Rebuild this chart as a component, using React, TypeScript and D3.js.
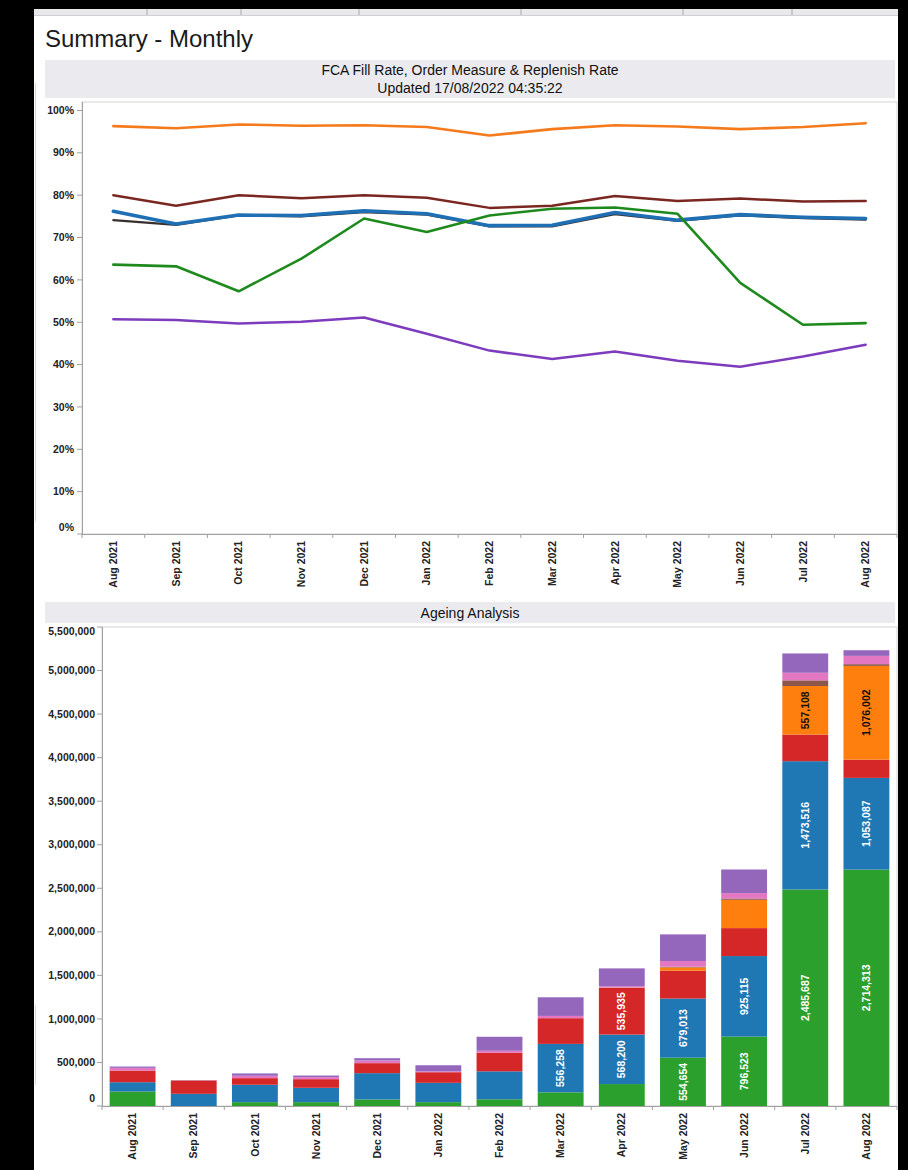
import React from 'react';
import * as d3 from 'd3';

const months = ['Aug 2021','Sep 2021','Oct 2021','Nov 2021','Dec 2021','Jan 2022','Feb 2022','Mar 2022','Apr 2022','May 2022','Jun 2022','Jul 2022','Aug 2022'];

// Line chart series (percent)
const rateOrange = [96.3, 95.8, 96.7, 96.4, 96.5, 96.1, 94.1, 95.6, 96.5, 96.2, 95.6, 96.1, 97.0];
const rateMaroon = [80.0, 77.5, 80.0, 79.3, 80.0, 79.4, 77.0, 77.5, 79.8, 78.6, 79.2, 78.5, 78.6];
const rateDark = [74.1, 73.0, 75.2, 75.0, 76.0, 75.4, 72.6, 72.6, 75.5, 73.9, 75.2, 74.6, 74.2];
const rateBlue = [76.2, 73.2, 75.3, 75.2, 76.3, 75.6, 72.8, 72.9, 75.9, 74.1, 75.4, 74.8, 74.5];
const rateGreen = [63.6, 63.2, 57.3, 65.0, 74.5, 71.3, 75.2, 76.8, 77.1, 75.6, 59.3, 49.4, 49.8];
const ratePurple = [50.7, 50.5, 49.7, 50.1, 51.1, 47.3, 43.3, 41.3, 43.1, 40.9, 39.5, 41.9, 44.7];
const pctTicks = [0, 10, 20, 30, 40, 50, 60, 70, 80, 90, 100];

// Ageing analysis stacked values
const ageGreen = [166000, 0, 44000, 44000, 75000, 44000, 77000, 157000, 252000, 554654, 796523, 2485687, 2714313];
const ageBlue = [107000, 140000, 200000, 165000, 302000, 222000, 321000, 556258, 568200, 679013, 925115, 1473516, 1053087];
const ageRed = [134000, 153000, 76000, 99000, 115000, 122000, 213000, 295000, 535935, 320000, 321000, 306000, 210000];
const ageOrange = [0, 0, 0, 0, 0, 0, 0, 0, 3000, 38000, 325000, 557108, 1076002];
const ageBrown = [0, 0, 0, 0, 0, 0, 0, 0, 0, 8000, 15000, 65000, 20000];
const agePink = [31000, 0, 27000, 23000, 31000, 10000, 23000, 26000, 15000, 65000, 62000, 87000, 95000];
const agePurple = [15000, 3000, 27000, 19000, 26000, 70000, 161000, 214000, 206000, 306000, 271000, 222000, 65000];
const ageTicks = [0, 500000, 1000000, 1500000, 2000000, 2500000, 3000000, 3500000, 4000000, 4500000, 5000000, 5500000];

const tabSeparators = [147, 241, 359, 521, 683, 792];

const FONT = 'Liberation Sans, Arial, Helvetica, sans-serif';

export default function App() {
  // ---------- line chart ----------
  const lx = d3.scaleBand<string>().domain(months).range([82, 897]);
  const ly = d3.scaleLinear().domain([0, 102]).range([534, 102]);
  const lc = (m: string) => (lx(m) as number) + lx.bandwidth() / 2;

  const lineSeries = [
    { key: 'purple', values: ratePurple, color: '#7d3cbd', width: 2.5 },
    { key: 'dark', values: rateDark, color: '#3a3030', width: 2.2 },
    { key: 'blue', values: rateBlue, color: '#1f6fb4', width: 3.6 },
    { key: 'maroon', values: rateMaroon, color: '#7a2722', width: 2.5 },
    { key: 'green', values: rateGreen, color: '#1e8a1e', width: 2.6 },
    { key: 'orange', values: rateOrange, color: '#f57a1c', width: 2.6 },
  ];
  const lineGen = d3.line<number>()
    .x((_, i) => lc(months[i]))
    .y((d) => ly(d));

  // ---------- bar chart ----------
  const bx = d3.scaleBand<string>().domain(months).range([102, 897]).paddingInner(0.25).paddingOuter(0.125);
  const by = d3.scaleLinear().domain([0, 5500000]).range([1106, 627]);
  const keys = ['green', 'blue', 'red', 'orange', 'brown', 'pink', 'purple'];
  const colors: Record<string, string> = {
    green: '#2ca02c', blue: '#1f77b4', red: '#d62728', orange: '#ff7f0e',
    brown: '#8c564b', pink: '#e377c2', purple: '#9467bd',
  };
  const labelColor: Record<string, string> = {
    green: '#ffffff', blue: '#ffffff', red: '#ffffff', orange: '#111111',
    brown: '#ffffff', pink: '#111111', purple: '#ffffff',
  };
  const table = months.map((m, i) => ({
    month: m,
    green: ageGreen[i], blue: ageBlue[i], red: ageRed[i], orange: ageOrange[i],
    brown: ageBrown[i], pink: agePink[i], purple: agePurple[i],
  }));
  const stacked = d3.stack<any>().keys(keys)(table);
  const fmt = d3.format(',');
  const bStep = bx.step();
  const bStart = bx.range()[0];

  return (
    <svg width={908} height={1170} style={{ position: 'absolute', left: 0, top: 0, display: 'block' }} fontFamily={FONT}>
      <rect x={0} y={0} width={908} height={1170} fill="#000" />
      <rect x={34} y={9} width={864} height={1161} fill="#fff" />
      {/* tab strip */}
      <rect x={34} y={9} width={864} height={6} fill="#e9e9ec" />
      <line x1={34} x2={898} y1={15.5} y2={15.5} stroke="#d0d0d4" />
      {tabSeparators.map((s) => (
        <line key={s} x1={s} x2={s} y1={9} y2={15} stroke="#a8a8ae" />
      ))}
      <line x1={35.5} x2={35.5} y1={83} y2={522} stroke="#d8d8d8" />
      <line x1={35.5} x2={35.5} y1={1005} y2={1085} stroke="#d8d8d8" />

      {/* page title */}
      <text x={45} y={47} fontSize={24} fill="#1a1a1a">Summary - Monthly</text>

      {/* ---------- line chart header ---------- */}
      <rect x={45} y={60} width={850} height={38} fill="#ebebef" />
      <text x={470} y={75} textAnchor="middle" fontSize={14} fill="#111">FCA Fill Rate, Order Measure &amp; Replenish Rate</text>
      <text x={470} y={93} textAnchor="middle" fontSize={14} fill="#111">Updated 17/08/2022 04:35:22</text>

      {/* plot frame */}
      <rect x={82} y={102} width={815} height={432} fill="none" stroke="#d4d4d4" />
      <line x1={82.5} x2={82.5} y1={102} y2={534} stroke="#a0a0a0" />
      <line x1={82} x2={897} y1={534.5} y2={534.5} stroke="#a0a0a0" />
      {pctTicks.map((t) => (
        <g key={t}>
          <line x1={77} x2={82} y1={ly(t)} y2={ly(t)} stroke="#a0a0a0" />
          <text x={74} y={t === 0 ? ly(t) - 7 : ly(t)} dy="0.35em" textAnchor="end" fontSize={10.5} fontWeight={600} fill="#222">{t}%</text>
        </g>
      ))}
      {months.map((m, i) => (
        <line key={m} x1={(lx(m) as number)} x2={(lx(m) as number)} y1={534} y2={538} stroke="#a0a0a0" />
      ))}
      <line x1={897} x2={897} y1={534} y2={538} stroke="#a0a0a0" />
      {months.map((m) => (
        <text key={m} transform={`translate(${lc(m)},541) rotate(-90)`} textAnchor="end" dy="0.35em" fontSize={10.5} fontWeight={600} fill="#222">{m}</text>
      ))}
      {lineSeries.map((s) => (
        <path key={s.key} d={lineGen(s.values) as string} fill="none" stroke={s.color} strokeWidth={s.width} strokeLinejoin="round" strokeLinecap="round" />
      ))}

      {/* ---------- bar chart header ---------- */}
      <rect x={45} y={602} width={850} height={21} fill="#ebebef" />
      <text x={470} y={618} textAnchor="middle" fontSize={14} fill="#111">Ageing Analysis</text>

      <rect x={102} y={627} width={795} height={479} fill="none" stroke="#d4d4d4" />
      <line x1={102.5} x2={102.5} y1={627} y2={1106} stroke="#a0a0a0" />
      <line x1={102} x2={897} y1={1106.5} y2={1106.5} stroke="#a0a0a0" />
      {ageTicks.map((t) => (
        <g key={t}>
          <line x1={97} x2={102} y1={by(t)} y2={by(t)} stroke="#a0a0a0" />
          <text x={95} y={t === 0 ? by(t) - 8 : t === 5500000 ? by(t) + 4 : by(t)} dy="0.35em" textAnchor="end" fontSize={10.5} fontWeight={600} fill="#222">{fmt(t)}</text>
        </g>
      ))}
      {d3.range(months.length + 1).map((i) => (
        <line key={i} x1={bStart + i * bStep} x2={bStart + i * bStep} y1={1106} y2={1110} stroke="#a0a0a0" />
      ))}
      {months.map((m) => (
        <text key={m} transform={`translate(${(bx(m) as number) + bx.bandwidth() / 2},1113) rotate(-90)`} textAnchor="end" dy="0.35em" fontSize={10.5} fontWeight={600} fill="#222">{m}</text>
      ))}
      {stacked.map((layer) => (
        <g key={layer.key} fill={colors[layer.key]}>
          {layer.map((d, i) => {
            const h = by(d[0]) - by(d[1]);
            if (h <= 0) return null;
            return <rect key={i} x={bx(months[i]) as number} y={by(d[1])} width={bx.bandwidth()} height={h} />;
          })}
        </g>
      ))}
      {stacked.map((layer) => (
        <g key={layer.key + '-lbl'}>
          {layer.map((d, i) => {
            const v = d[1] - d[0];
            if (v < 500000) return null;
            const cx = (bx(months[i]) as number) + bx.bandwidth() / 2;
            const cy = (by(d[0]) + by(d[1])) / 2;
            return (
              <text key={i} transform={`translate(${cx},${cy}) rotate(-90)`} textAnchor="middle" dy="0.35em" fontSize={10.5} fontWeight={600} fill={labelColor[layer.key]}>{fmt(v)}</text>
            );
          })}
        </g>
      ))}
    </svg>
  );
}
